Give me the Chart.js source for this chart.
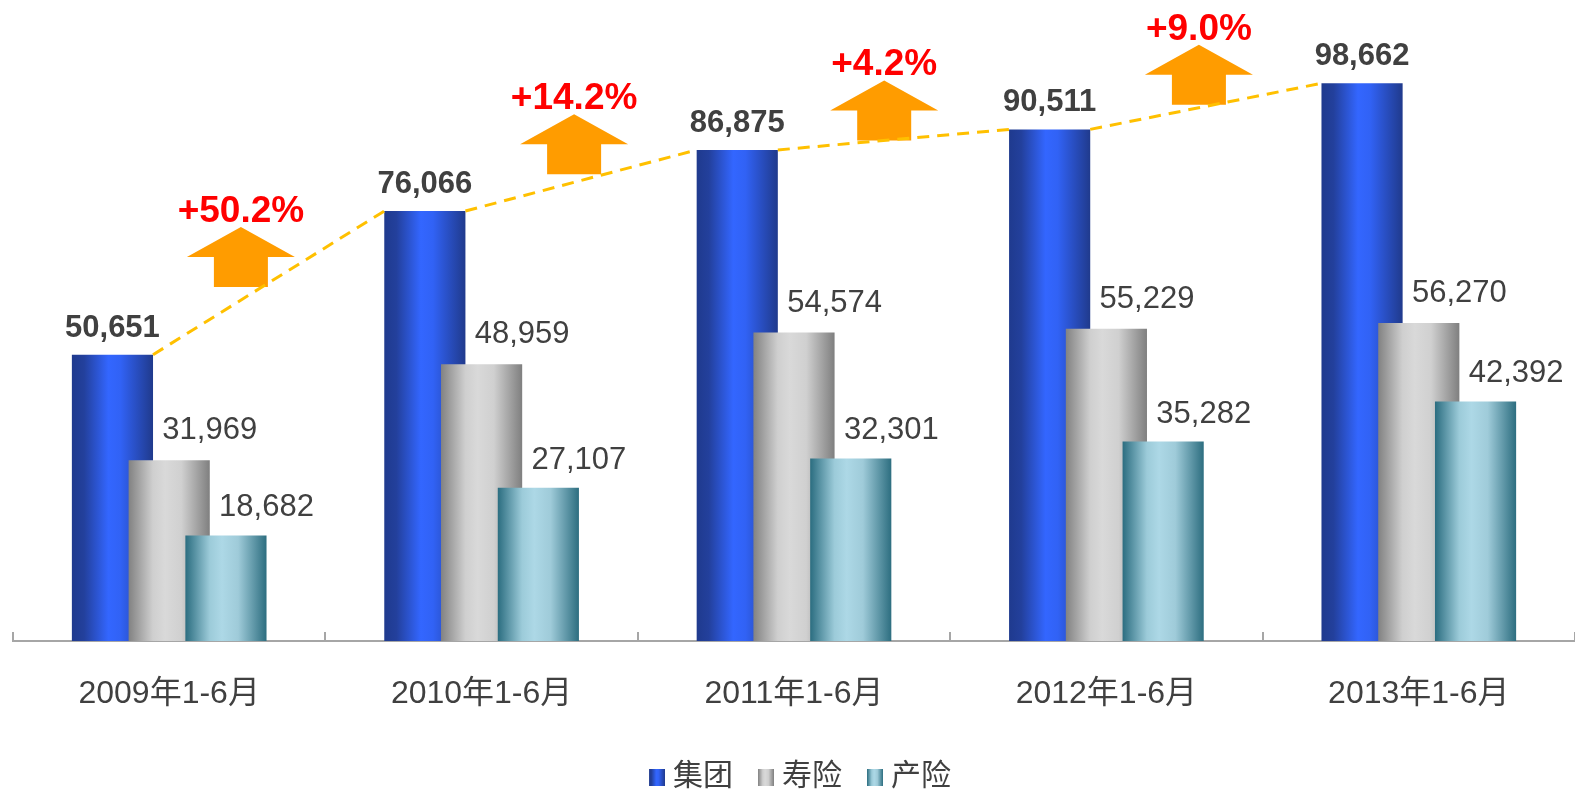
<!DOCTYPE html>
<html>
<head>
<meta charset="utf-8">
<script src="https://cdn.jsdelivr.net/npm/chart.js@4"></script>
<style>
  html, body { margin: 0; padding: 0; background: #fff; }
  #wrap { width: 1575px; height: 789px; position: relative; }
</style>
</head>
<body>
<div id="wrap"><canvas id="premiumChart"></canvas></div>
<script>
// data
const categories = ['2009年1-6月', '2010年1-6月', '2011年1-6月', '2012年1-6月', '2013年1-6月'];
const seriesNames = ['集团', '寿险', '产险'];
const groupValues = [50651, 76066, 86875, 90511, 98662];
const lifeValues = [31969, 48959, 54574, 55229, 56270];
const propertyValues = [18682, 27107, 32301, 35282, 42392];
const growthLabels = ['+50.2%', '+14.2%', '+4.2%', '+9.0%'];

// where each growth arrow sits: share of the way along its dashed segment, and lift above it (px)
const arrowPlacement = [[0.38, 13], [0.47, 8], [0.46, 0], [0.47, 3]];

const FONT = '"Liberation Sans", Arial, "Noto Sans CJK SC", sans-serif';
const TEXT_COLOR = '#404040';

// horizontal "cylinder" shading for each series
const shades = [
    [[0, '#1f3a8e'], [0.15, '#23409c'], [0.45, '#3366ff'], [0.6, '#3162f5'], [1, '#203a8c']],
    [[0, '#828282'], [0.3, '#cfcfcf'], [0.45, '#d9d9d9'], [0.65, '#d0d0d0'], [1, '#7f7f7f']],
    [[0, '#2b6d80'], [0.3, '#9ccbd9'], [0.45, '#add8e6'], [0.65, '#9fcbd9'], [1, '#2d6e80']]
];

function makeGradient(ctx, x0, x1, stops) {
    const g = ctx.createLinearGradient(x0, 0, x1, 0);
    stops.forEach(s => g.addColorStop(s[0], s[1]));
    return g;
}

// shaded legend squares; the transparent strip on the left nudges the square toward its text
const legendIcons = shades.map(stops => {
    const c = document.createElement('canvas');
    c.width = 35; c.height = 17;
    const cx = c.getContext('2d');
    cx.fillStyle = makeGradient(cx, 19, 35, stops);
    cx.fillRect(19, 0, 16, 17);
    return c;
});

// draw bars in dataset order so each later series sits on top of the previous one
const overlapBars = {
    id: 'overlapBars',
    beforeDatasetsDraw(chart) {
        const ctx = chart.ctx;
        chart.data.datasets.forEach((ds, di) => {
            const meta = chart.getDatasetMeta(di);
            meta.data.forEach(bar => {
                const x = bar.x, w = bar.width;
                const saved = bar.options;
                bar.options = Object.assign({}, saved, { backgroundColor: makeGradient(ctx, x - w / 2, x + w / 2, shades[di]) });
                bar.draw(ctx);
                bar.options = saved;
            });
        });
        return false;
    }
};

function drawArrow(ctx, cx, bottom) {
    ctx.beginPath();
    ctx.moveTo(cx - 27, bottom);
    ctx.lineTo(cx - 27, bottom - 30);
    ctx.lineTo(cx - 54, bottom - 30);
    ctx.lineTo(cx, bottom - 60);
    ctx.lineTo(cx + 54, bottom - 30);
    ctx.lineTo(cx + 27, bottom - 30);
    ctx.lineTo(cx + 27, bottom);
    ctx.closePath();
    ctx.fillStyle = '#ff9c00';
    ctx.fill();
}

const annotations = {
    id: 'annotations',
    afterDraw(chart) {
        const ctx = chart.ctx;
        const blue = chart.getDatasetMeta(0).data;
        ctx.save();

        // growth arrows + dashed trend between the tops of the group bars
        for (let i = 0; i < blue.length - 1; i++) {
            const x0 = blue[i].x + blue[i].width / 2, y0 = blue[i].y;
            const x1 = blue[i + 1].x - blue[i + 1].width / 2, y1 = blue[i + 1].y;
            const t = arrowPlacement[i][0];
            const cx = x0 + (x1 - x0) * t;
            const bottom = y0 + (y1 - y0) * t - arrowPlacement[i][1];
            drawArrow(ctx, cx, bottom);
            ctx.fillStyle = '#ff0000';
            ctx.font = 'bold 37px ' + FONT;
            ctx.textAlign = 'center';
            ctx.textBaseline = 'alphabetic';
            ctx.fillText(growthLabels[i], cx, bottom - 65);
        }
        ctx.strokeStyle = '#ffc000';
        ctx.lineWidth = 3;
        ctx.setLineDash([12, 8]);
        for (let i = 0; i < blue.length - 1; i++) {
            ctx.beginPath();
            ctx.moveTo(blue[i].x + blue[i].width / 2, blue[i].y);
            ctx.lineTo(blue[i + 1].x - blue[i + 1].width / 2, blue[i + 1].y);
            ctx.stroke();
        }
        ctx.setLineDash([]);

        // value labels
        ctx.fillStyle = TEXT_COLOR;
        ctx.textAlign = 'center';
        ctx.textBaseline = 'alphabetic';
        chart.data.datasets.forEach((ds, di) => {
            chart.getDatasetMeta(di).data.forEach((bar, i) => {
                const txt = ds.data[i].toLocaleString('en-US');
                if (di === 0) {
                    ctx.font = 'bold 31px ' + FONT;
                    ctx.fillText(txt, bar.x, bar.y - 18);
                } else {
                    ctx.font = '31px ' + FONT;
                    ctx.fillText(txt, bar.x + bar.width / 2, bar.y - (di === 1 ? 21 : 19));
                }
            });
        });
        ctx.restore();
    }
};

const ctx = document.getElementById('premiumChart').getContext('2d');
new Chart(ctx, {
    type: 'bar',
    data: {
        labels: categories,
        datasets: [
            { label: seriesNames[0], data: groupValues, backgroundColor: '#3366ff' },
            { label: seriesNames[1], data: lifeValues, backgroundColor: '#d9d9d9' },
            { label: seriesNames[2], data: propertyValues, backgroundColor: '#add8e6' }
        ]
    },
    options: {
        responsive: true,
        maintainAspectRatio: false,
        animation: false,
        events: [],
        layout: { padding: { left: 13, right: 0, top: 0, bottom: -13 } },
        datasets: { bar: { categoryPercentage: 0.545, barPercentage: 1.43, borderWidth: 0 } },
        plugins: {
            tooltip: { enabled: false },
            legend: {
                position: 'bottom',
                labels: {
                    usePointStyle: true,
                    pointStyleWidth: 21,
                    padding: 13,
                    color: TEXT_COLOR,
                    font: { size: 30, family: FONT },
                    generateLabels: (chart) => chart.data.datasets.map((ds, i) => ({
                        text: ds.label,
                        pointStyle: legendIcons[i],
                        fillStyle: ds.backgroundColor,
                        strokeStyle: 'transparent',
                        lineWidth: 0,
                        fontColor: TEXT_COLOR,
                        datasetIndex: i,
                        hidden: false
                    }))
                }
            }
        },
        scales: {
            x: {
                offset: true,
                grid: { display: true, drawOnChartArea: false, drawTicks: true, tickLength: -9, color: '#a6a6a6', lineWidth: 2, offset: true },
                border: { display: true, color: '#a6a6a6', width: 2 },
                ticks: {
                    color: TEXT_COLOR,
                    font: { size: 32, family: FONT, lineHeight: 7 / 32 },
                    padding: 51.5,
                    maxRotation: 0,
                    autoSkip: false,
                    // blank first line pushes the label down without making the axis taller
                    callback: (v, i) => ['', categories[i]]
                }
            },
            y: { display: false, min: 0, max: 113400 }
        }
    },
    plugins: [overlapBars, annotations]
});
</script>
</body>
</html>
